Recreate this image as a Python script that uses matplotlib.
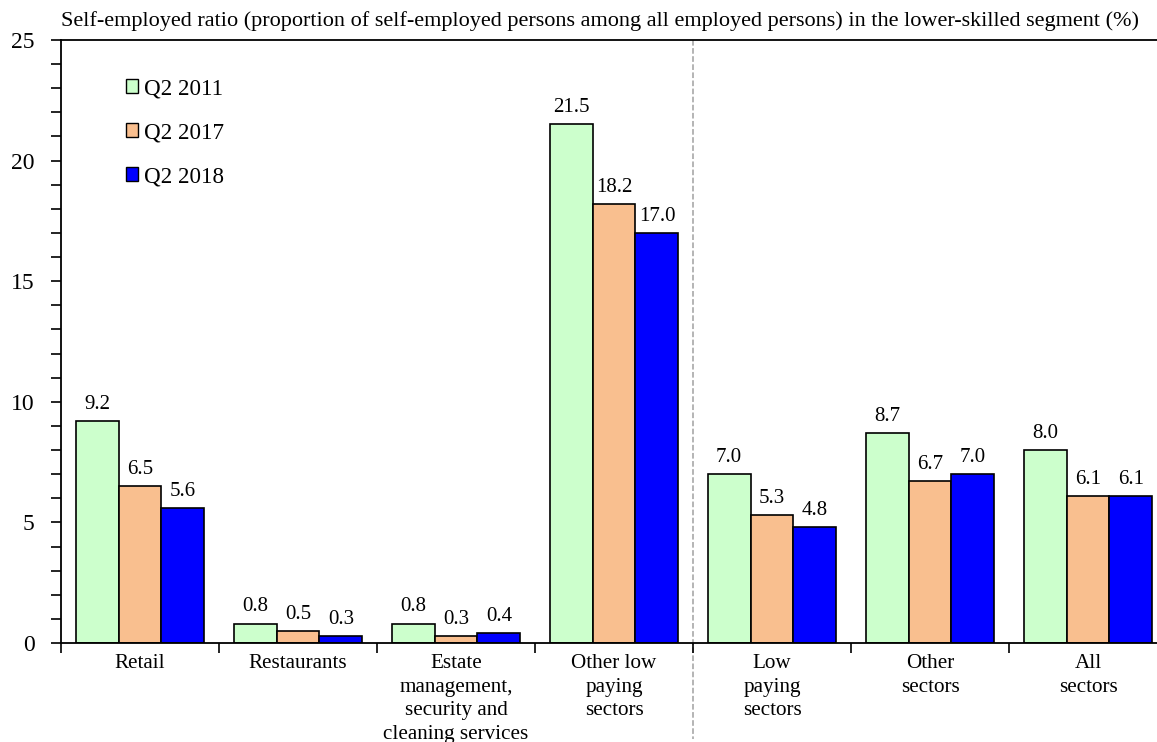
import numpy as np
import matplotlib
matplotlib.use('Agg')
from matplotlib import pyplot as plt
from matplotlib.patches import Patch

plt.rcParams['font.family'] = ['Liberation Serif', 'DejaVu Serif']

########## Data ###################
categories = ['Retail', 'Restaurants',
              'Estate\nmanagement,\nsecurity and\ncleaning services',
              'Other low\npaying\nsectors', 'Low\npaying\nsectors',
              'Other\nsectors', 'All\nsectors']
series_names = ['Q2 2011', 'Q2 2017', 'Q2 2018']
q2_2011 = [9.2, 0.8, 0.8, 21.5, 7.0, 8.7, 8.0]
q2_2017 = [6.5, 0.5, 0.3, 18.2, 5.3, 6.7, 6.1]
q2_2018 = [5.6, 0.3, 0.4, 17.0, 4.8, 7.0, 6.1]
colors = ['#CCFFCC', '#F9BF8F', '#0000FF']
title = ('Self-employed ratio (proportion of self-employed persons among all '
         'employed persons) in the lower-skilled segment (%)')
###################################

W, H = 1157, 742
fig = plt.figure(figsize=(W/100, H/100), dpi=100)
# axes runs a bit past the right edge, as in the original
ax = fig.add_axes([61/W, (H-643)/H, 1106/W, 603/H])

x = np.arange(len(categories))
bw = 0.272
for i, vals in enumerate([q2_2011, q2_2017, q2_2018]):
    pos = x + (i-1)*bw
    ax.bar(pos, vals, width=bw, color=colors[i], edgecolor='black', linewidth=1.2)
    for p, v in zip(pos, vals):
        ax.text(p, v + 0.3, f'{v:.1f}', ha='center', va='bottom', fontsize=15)

ax.set_xlim(-0.5, len(categories)-0.5)
ax.set_ylim(0, 25)

# spines
ax.spines['right'].set_visible(False)
for s in ['left', 'bottom', 'top']:
    ax.spines[s].set_linewidth(1.3)

# y ticks
ax.set_yticks(np.arange(0, 26, 5))
ax.set_yticks(np.arange(0, 26, 1), minor=True)
ax.tick_params(axis='y', which='both', direction='out', length=7, width=1.2,
               labelsize=17, pad=12)

# x ticks at boundaries, labels at centres
ax.set_xticks(np.arange(-0.5, len(categories), 1))
ax.set_xticklabels([])
ax.set_xticks(x, minor=True)
ax.set_xticklabels(categories, minor=True, fontsize=15.2, linespacing=1.32)
ax.tick_params(axis='x', which='major', direction='out', length=7, width=1.2)
ax.tick_params(axis='x', which='minor', length=0, pad=8)

# dashed divider
ax.plot([3.5, 3.5], [25, -4.0], color='#A0A0A0', linestyle='--', linewidth=1.1,
        clip_on=False, zorder=0)

ax.set_title(title, loc='left', fontsize=16, pad=10, x=0.0)

handles = [Patch(facecolor=c, edgecolor='black', linewidth=1.0) for c in colors]
ax.legend(handles, series_names, loc='upper left', bbox_to_anchor=(0.05, 0.952),
          frameon=False, fontsize=16.6, handlelength=0.55, handleheight=0.55,
          handletextpad=0.25, labelspacing=1.0, borderaxespad=0)

fig.savefig('out.png', dpi=100)
